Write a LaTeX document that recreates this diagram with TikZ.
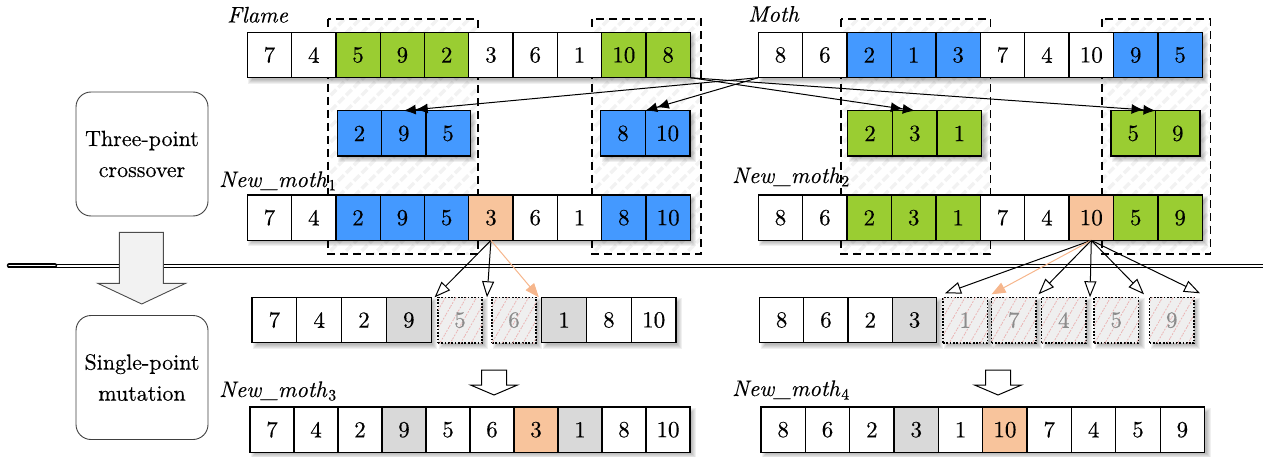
\documentclass[tikz,border=0pt]{standalone}
\usepackage{fontspec}
\setmainfont{lmroman10-regular.otf}[ItalicFont=lmroman10-italic.otf,BoldFont=lmroman10-bold.otf,RawFeature={embolden=0.3}]
\usetikzlibrary{arrows.meta,patterns.meta,calc}

\definecolor{cgreen}{HTML}{9ACD32}
\definecolor{cblue}{HTML}{4499FF}
\definecolor{cgray}{HTML}{D9D9D9}
\definecolor{corange}{HTML}{F8C49C}
\definecolor{carrow}{HTML}{F6B68C}
\definecolor{hatchpink}{HTML}{EBB4B4}
\definecolor{ghostfill}{HTML}{EFEFEF}
\definecolor{blockfill}{HTML}{F2F2F2}

% soft shadow below and right of a rectangle (x0,y0)-(x1,y1)
\newcommand\rowshadow[4]{%
  \foreach \k in {0,1,2,3,4}{%
    \fill[black,opacity=0.06] ({#1+1+\k},{#2+1+\k}) rectangle ({#3+6-\k},{#4+6-\k});
  }%
}
% a row of cells: prefix, x0, y0, cell width, count, list value/colour
\newcommand\cellrow[6]{%
  \rowshadow{#2}{#3}{#2+#5*#4}{#3+45.4}%
  \foreach \v/\c [count=\i] in {#6}{%
    \node[cell=#4pt,fill=\c] (#1\i) at ({#2+(\i-1)*#4},#3) {\v};
  }%
}
% a removed (dotted, hatched) cell: name, x, y, width, value
\newcommand\ghostcell[5]{%
  \rowshadow{#2}{#3}{#2+#4}{#3+45.7}%
  \node[ghost=#4pt] (#1) at (#2,#3) {#5};
}

\begin{document}
\begin{tikzpicture}[x=1pt,y=-1pt,
  cell/.style={draw=black,line width=1.3pt,minimum width=#1,minimum height=45.4pt,
    inner sep=0pt,outer sep=0pt,anchor=north west,font=\fontsize{23}{27}\selectfont},
  ghost/.style={draw=black,line width=1.2pt,dash pattern=on 1.8pt off 1.5pt,fill=ghostfill,
    postaction={pattern={Lines[angle=60,distance=9pt,line width=0.8pt]},pattern color=hatchpink},
    minimum width=#1,minimum height=45.7pt,inner sep=0pt,outer sep=0pt,anchor=north west,
    text=black!45,font=\fontsize{23}{27}\selectfont},
  selbox/.style={draw=black,line width=1.4pt,dash pattern=on 8pt off 5pt,
    pattern={Lines[angle=45,distance=11pt,line width=3.5pt]},pattern color=black!5},
  lbl/.style={anchor=base west,inner sep=0pt,font=\fontsize{22.5}{27}\selectfont\itshape},
  procbox/.style={draw=black!75,line width=0.9pt,rounded corners=15pt,fill=white,
    minimum width=132pt,minimum height=124pt,align=center,inner sep=0pt,
    font=\fontsize{22}{31}\selectfont},
  xarrow/.style={line width=1pt,-{Latex[length=12pt,width=10pt]Latex[length=12pt,width=10pt]}},
  marrow/.style={line width=1pt,-{Triangle[length=16pt,width=12pt,fill=white,line width=1pt]}},
  oarrow/.style={line width=1pt,draw=carrow,-{Triangle[length=14pt,width=11pt,fill=carrow]}},
  hollow/.style={draw=black,line width=1pt,fill=white},
]
\useasboundingbox (0,0) rectangle (1263,457);

% crossover segments
\draw[selbox] (328,19) rectangle (478,254);
\draw[selbox] (592,19) rectangle (701,254);
\draw[selbox] (841,19) rectangle (990.5,254);
\draw[selbox] (1102,19) rectangle (1210.7,254);

% separator between the two stages
\draw[line width=0.9pt,double distance=2.2pt] (8,265.6) -- (1263,265.6);
\draw[line width=1.6pt,double distance=1.2pt,line cap=round] (9,265.6) -- (55,265.6);

% stage boxes and the block arrow between them
\draw[draw=black!70,line width=0.9pt,fill=blockfill]
  (119.3,232.3) -- (163.3,232.3) -- (163.3,283.3) -- (185.7,283.3) -- (141.7,304)
  -- (97.7,283.3) -- (119.3,283.3) -- cycle;
\node[procbox] (cross) at (142,154) {Three-point\\crossover};
\node[procbox] (mut) at (142,377.5) {Single-point\\mutation};

% parents
\cellrow{fl}{247.3}{32.3}{44.3}{10}{7/white,4/white,5/cgreen,9/cgreen,2/cgreen,3/white,6/white,1/white,10/cgreen,8/cgreen}
\cellrow{mo}{758.3}{32.3}{44.4}{10}{8/white,6/white,2/cblue,1/cblue,3/cblue,7/white,4/white,10/white,9/cblue,5/cblue}

% exchanged segments
\cellrow{ba}{337.3}{110.7}{44.3}{3}{2/cblue,9/cblue,5/cblue}
\cellrow{bb}{600.7}{110.7}{44.6}{2}{8/cblue,10/cblue}
\cellrow{gc}{847.7}{110.7}{44.7}{3}{2/cgreen,3/cgreen,1/cgreen}
\cellrow{gd}{1111}{110.7}{44.5}{2}{5/cgreen,9/cgreen}

% offspring of the crossover
\cellrow{na}{247.3}{195}{44.3}{10}{7/white,4/white,2/cblue,9/cblue,5/cblue,3/corange,6/white,1/white,8/cblue,10/cblue}
\cellrow{nb}{758.3}{195}{44.4}{10}{8/white,6/white,2/cgreen,3/cgreen,1/cgreen,7/white,4/white,10/corange,5/cgreen,9/cgreen}

% mutation: candidate positions
\cellrow{ma}{252}{297.3}{44.8}{4}{7/white,4/white,2/white,9/cgray}
\ghostcell{gx1}{438}{297.3}{44}{5}
\ghostcell{gx2}{492}{297.3}{44}{6}
\cellrow{mb}{541.7}{297.3}{44.8}{3}{1/cgray,8/white,10/white}

\cellrow{mc}{759.5}{297.3}{44.3}{4}{8/white,6/white,2/white,3/cgray}
\ghostcell{gy1}{943}{297.3}{44.5}{1}
\ghostcell{gy2}{991.5}{297.3}{44.5}{7}
\ghostcell{gy3}{1041.5}{297.3}{44.5}{4}
\ghostcell{gy4}{1094}{297.3}{44.5}{5}
\ghostcell{gy5}{1149.5}{297.3}{44.5}{9}

% offspring of the mutation
\cellrow{nc}{250}{407}{44}{10}{7/white,4/white,2/white,9/cgray,5/white,6/white,3/corange,1/cgray,8/white,10/white}
\cellrow{nd}{761}{407}{44.35}{10}{8/white,6/white,2/white,3/cgray,1/white,10/corange,7/white,4/white,5/white,9/white}

% small down arrows
\foreach \cx in {494,998}{
  \draw[hollow] (\cx-12.5,370) -- (\cx+12.5,370) -- (\cx+12.5,385) -- (\cx+23.5,385)
    -- (\cx,395) -- (\cx-23.5,385) -- (\cx-12.5,385) -- cycle;
}

% labels
\node[lbl] (lflame) at (227,22.5) {Flame};
\node[lbl] (lmoth) at (748,21.7) {Moth};
\node[lbl] (lnew1) at (219,187) {New\_moth\kern1.5pt\textsubscript{\upshape 1}};
\node[lbl] (lnew2) at (732,183) {New\_moth\kern1.5pt\textsubscript{\upshape 2}};
\node[lbl] (lnew3) at (219,397) {New\_moth\kern1.5pt\textsubscript{\upshape 3}};
\node[lbl] (lnew4) at (732,396) {New\_moth\kern1.5pt\textsubscript{\upshape 4}};

% segment exchange
\draw[xarrow] (mo1.south west) -- (ba2.north);
\draw[xarrow] (mo1.south west) -- (bb1.north east);
\draw[xarrow] (fl10.south east) -- (gc2.north);
\draw[xarrow] (fl10.south east) -- (gd1.north east);

% mutation of the chosen gene
\draw[marrow] (na6.south) -- ($(ma4.north east)!.5!(gx1.north west)$);
\draw[marrow] (na6.south) -- ($(gx1.north east)!.5!(gx2.north west)$);
\draw[oarrow] (na6.south) -- ($(gx2.north east)!.5!(mb1.north west)$);

\draw[marrow] (nb8.south) -- ($(gy1.north west)+(2,-4)$);
\draw[oarrow] (nb8.south) -- ($(gy2.north west)+(0,-3)$);
\draw[marrow] (nb8.south) -- ($(gy3.north west)+(-3,-3)$);
\draw[marrow] (nb8.south) -- ($(gy3.north east)!.5!(gy4.north west)$);
\draw[marrow] (nb8.south) -- ($(gy4.north east)!.5!(gy5.north west)+(0,-3)$);
\draw[marrow] (nb8.south) -- ($(gy5.north east)+(6,-4)$);
\end{tikzpicture}
\end{document}
